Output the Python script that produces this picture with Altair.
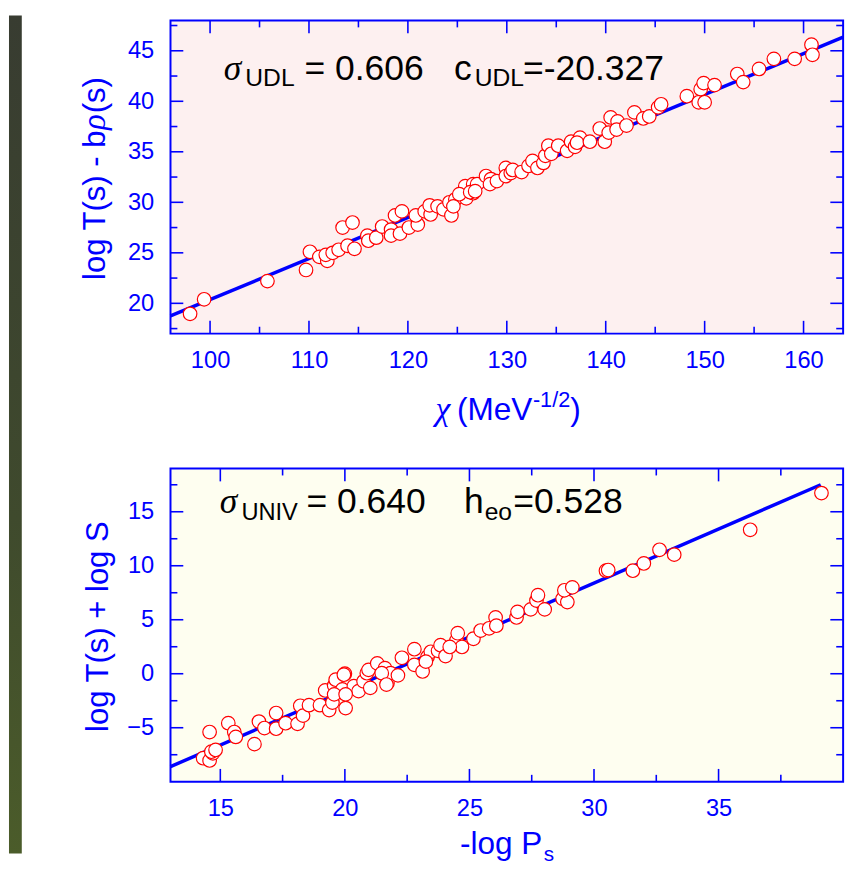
import altair as alt
import pandas as pd

# ---------------- data ----------------
udl_chi = [97.98, 99.4, 105.8, 109.7, 110.1, 111.05, 111.85, 111.7, 112.4, 113.0,
           113.4, 114.4, 113.9, 114.6, 115.9, 116.0, 116.8, 117.4, 118.7, 119.4,
           118.3, 118.3, 119.2, 120.1, 121.0, 120.8, 121.7, 122.3, 122.2, 123.0,
           123.6, 124.4, 124.2, 124.8, 124.6, 125.9, 125.8, 126.6, 127.0, 126.6,
           127.9, 128.4, 128.3, 129.0, 129.9, 129.9, 130.4, 125.2, 126.3, 126.8,
           130.6, 131.5, 132.2, 132.6, 133.1, 133.7, 133.9, 134.2, 134.5, 135.2,
           136.1, 136.5, 136.9, 137.4, 137.1, 138.4, 139.4, 139.9, 140.3, 140.5,
           141.2, 141.1, 142.1, 142.9, 143.8, 144.4, 145.3, 145.6, 148.2, 149.4,
           150.0, 149.6, 149.9, 151.0, 153.3, 153.9, 155.5, 157.0, 159.1, 160.8,
           160.9]
udl_val = [18.96, 20.4, 22.2, 23.3, 25.1, 24.6, 24.2, 24.8, 25.0, 25.3,
           27.5, 28.0, 25.7, 25.4, 26.7, 26.2, 26.5, 27.6, 28.7, 29.1,
           27.3, 26.7, 26.9, 27.5, 27.8, 28.7, 29.1, 28.8, 29.7, 29.6,
           29.3, 28.7, 30.0, 30.3, 29.6, 30.4, 31.6, 31.8, 31.8, 30.9,
           32.6, 32.3, 31.8, 32.1, 33.4, 32.6, 32.9, 30.8, 31.0, 31.1,
           33.2, 33.0, 33.6, 34.1, 33.4, 33.9, 34.6, 35.6, 34.8, 35.6,
           35.1, 36.0, 35.5, 36.4, 35.9, 36.0, 37.3, 36.0, 36.9, 38.4,
           38.0, 37.2, 37.6, 38.9, 38.3, 38.5, 39.4, 39.7, 40.5, 39.9,
           39.9, 41.2, 41.8, 41.6, 42.7, 41.9, 43.2, 44.2, 44.2, 45.6,
           44.6]
udl_fit_x = [96.0, 164.0]
udl_fit_y = [18.75, 46.35]

univ_x = [14.31, 14.57, 14.70, 14.64, 14.81, 14.57, 15.32, 15.56, 15.62, 16.37,
          16.55, 16.77, 17.24, 17.24, 17.62, 18.10, 18.21, 18.32, 18.56, 19.0,
          19.37, 19.21, 19.57, 19.63, 20.0, 20.0, 20.03, 19.9, 20.36, 20.55,
          20.75, 20.88, 20.95, 21.02, 21.30, 21.61, 21.71, 21.83, 22.13, 22.29,
          22.79, 22.79, 23.12, 23.32, 23.45, 23.74, 23.84, 24.04, 24.48, 24.53,
          24.70, 25.16, 25.45, 25.79, 26.05, 26.08, 26.89, 26.93, 27.46, 27.69,
          27.75, 28.02, 28.74, 28.93, 28.81, 29.13, 30.48, 30.57, 31.56, 32.0,
          32.63, 33.22, 36.27, 39.13, 19.5, 19.57, 20.03, 21.48, 21.67, 24.21,
          23.25, 19.96]
univ_y = [-7.82, -8.03, -7.37, -7.22, -7.06, -5.40, -4.58, -5.40, -5.85, -6.52,
          -4.43, -5.03, -3.64, -5.09, -4.58, -4.64, -2.97, -3.88, -2.91, -2.91,
          -3.36, -1.55, -1.09, -0.55, 0.0, -1.85, -3.18, -1.45, -1.15, -1.61,
          -0.70, 0.05, 0.36, -1.31, 0.96, 0.51, -0.85, 0.05, -0.15, 1.48,
          2.27, 0.82, 0.21, 1.57, 2.03, 2.12, 2.64, 1.64, 3.09, 3.75,
          2.48, 3.24, 4.0, 4.21, 5.21, 4.45, 5.21, 5.73, 5.96, 6.78,
          7.27, 5.96, 6.94, 6.64, 7.73, 8.0, 9.54, 9.6, 9.54, 10.21,
          11.48, 11.03, 13.33, 16.73, -2.67, -1.91, -1.91, 0.05, -1.0, 2.48,
          1.12, -0.09]
univ_fit_x = [13.0, 39.1]
univ_fit_y = [-8.6, 17.5]

udl_xmajor = [100, 110, 120, 130, 140, 150, 160]
udl_xminor = [105, 115, 125, 135, 145, 155]
udl_ymajor = [20, 25, 30, 35, 40, 45]
udl_yminor = [17.5, 22.5, 27.5, 32.5, 37.5, 42.5, 47.5]
univ_xmajor = [15, 20, 25, 30, 35]
univ_xminor = [17.5, 22.5, 27.5, 32.5, 37.5]
univ_ymajor = [-5, 0, 5, 10, 15]
univ_yminor = [-7.5, -2.5, 2.5, 7.5, 12.5, 17.5]

# ---------------- style ----------------
W, H = 683, 318
BLUE = "#0000ff"
SANS = "Liberation Sans"
SERIF = "Liberation Serif"
MAJ, MIN = 13, 7
YT = 31.5  # y title font size


def txt(s, x, y, size, font=SANS, color="#000000", style="normal", align="left", angle=0):
    return alt.Chart(pd.DataFrame({"t": [s]})).mark_text(
        font=font, fontSize=size, color=color, fontStyle=style,
        align=align, baseline="alphabetic", angle=angle
    ).encode(text="t:N", x=alt.value(x), y=alt.value(y))


def panel(px, py, fx, fy, xdom, ydom, xmaj, xmin, ymaj, ymin, bg, ytitle, extra):
    xs = alt.Scale(domain=xdom, nice=False, zero=False)
    ys = alt.Scale(domain=ydom, nice=False, zero=False)
    xaxis = alt.Axis(values=xmaj, domain=False, ticks=False, tickSize=0, grid=False,
                     labelFont=SANS, labelFontSize=24, labelColor=BLUE, labelPadding=15,
                     labelOverlap=False, labelFlush=False, title=None, format="d")
    yargs = dict(values=ymaj, domain=False, ticks=False, tickSize=0, grid=False,
                 labelFont=SANS, labelFontSize=24, labelColor=BLUE, labelPadding=17,
                 labelOverlap=False, labelFlush=False, format="d")
    if ytitle:
        yargs.update(title=ytitle, titleFont=SANS, titleFontSize=YT, titleFontWeight="normal",
                     titleColor=BLUE, titleAngle=270, titleX=-73, titleY=160,
                     titleAlign="center", titleBaseline="middle")
    else:
        yargs.update(title=None)
    yaxis = alt.Axis(**yargs)
    pts = pd.DataFrame({"x": px, "y": py})
    fit = pd.DataFrame({"x": fx, "y": fy})

    def X(f):
        return alt.X(f, scale=xs, axis=xaxis)

    def Y(f):
        return alt.Y(f, scale=ys, axis=yaxis)

    layers = []

    def tick_layer(vals, axis_ch, size, side):
        d = pd.DataFrame({"v": vals})
        base = alt.Chart(d).mark_rule(color=BLUE, strokeWidth=1.6)
        if axis_ch == "x":
            enc = dict(x=X("v:Q"))
            if side == "bottom":
                enc.update(y=alt.value(H), y2=alt.value(H - size))
            else:
                enc.update(y=alt.value(0), y2=alt.value(size))
        else:
            enc = dict(y=Y("v:Q"))
            if side == "left":
                enc.update(x=alt.value(0), x2=alt.value(size))
            else:
                enc.update(x=alt.value(W), x2=alt.value(W - size))
        return base.encode(**enc)

    for side in ("bottom", "top"):
        layers.append(tick_layer(xmaj, "x", MAJ, side))
        layers.append(tick_layer(xmin, "x", MIN, side))
    for side in ("left", "right"):
        layers.append(tick_layer(ymaj, "y", MAJ, side))
        layers.append(tick_layer(ymin, "y", MIN, side))

    line = alt.Chart(fit).mark_line(color=BLUE, strokeWidth=3.5).encode(
        x=X("x:Q"), y=Y("y:Q"),
    )
    points = alt.Chart(pts).mark_point(
        shape="circle", filled=True, fill="#ffffff", stroke="#ff0000",
        strokeWidth=1.2, size=190, opacity=1, fillOpacity=1
    ).encode(x=X("x:Q"), y=Y("y:Q"))
    return alt.layer(*(extra[0] + layers + [line, points] + extra[1])).properties(
        width=W, height=H,
        view=alt.ViewBackground(fill=bg, stroke=BLUE, strokeWidth=2),
    )


strip = alt.Chart(pd.DataFrame({"a": [0]})).mark_rect(
    color=alt.LinearGradient(
        gradient="linear",
        stops=[alt.GradientStop(color="#383c31", offset=0),
               alt.GradientStop(color="#3f4a2d", offset=0.6),
               alt.GradientStop(color="#4b5c2a", offset=1)],
        x1=0, x2=0, y1=0, y2=1)
).encode(x=alt.value(-164), x2=alt.value(-151), y=alt.value(-5), y2=alt.value(846))

# rotated y title of the top panel, built from pieces (italic Greek rho)
TB = -66          # baseline x of rotated title
T0 = 263.5        # start (bottom) of the title
L1 = 4.834 * YT   # length of "log T(s) - b"
top_ytitle = [
    txt("log T(s) - b", TB, T0, YT, color=BLUE, angle=270),
    txt("\u03c1", TB, T0 - L1, YT + 2, font=SERIF, color=BLUE, style="italic", angle=270),
    txt("(s)", TB, T0 - L1 - 17, YT, color=BLUE, angle=270),
]

top_texts = [
    txt("\u03c3", 54, 60, 36, font=SERIF, style="italic"),
    txt("UDL", 76, 67, 25),
    txt("= 0.606", 136, 60, 36),
    txt("c", 288, 60, 36),
    txt("UDL", 309, 67, 25),
    txt("=-20.327", 358, 60, 36),
    txt("\u03c7", 269, 406, 34, font=SERIF, color=BLUE, style="italic"),
    txt("(MeV", 291, 406, 32, color=BLUE),
    txt("-1/2", 368, 392, 22, color=BLUE),
    txt(")", 406, 406, 32, color=BLUE),
] + top_ytitle
bot_texts = [
    txt("\u03c3", 50, 45.5, 36, font=SERIF, style="italic"),
    txt("UNIV", 72, 52.5, 24),
    txt("= 0.640", 138, 45.5, 36),
    txt("h", 298, 45.5, 36),
    txt("eo", 319, 52.5, 25),
    txt("=0.528", 348, 45.5, 36),
    txt("-log P", 294, 391, 32, color=BLUE),
    txt("s", 379, 398, 21, color=BLUE),
]

top = panel(udl_chi, udl_val, udl_fit_x, udl_fit_y, [96, 164], [17, 48],
            udl_xmajor, udl_xminor, udl_ymajor, udl_yminor, "#fdf0f0",
            None, ([strip], top_texts))
bottom = panel(univ_x, univ_y, univ_fit_x, univ_fit_y, [13, 40], [-10, 19],
               univ_xmajor, univ_xminor, univ_ymajor, univ_yminor, "#fefef0",
               "log T(s) + log S", ([], bot_texts))

chart = alt.vconcat(top, bottom, spacing=137, bounds="flush").properties(
    padding={"left": 0, "top": 0, "right": 0, "bottom": 0},
    background="#ffffff",
)

chart.save("out.html", embed_options={"renderer": "svg", "actions": False})
